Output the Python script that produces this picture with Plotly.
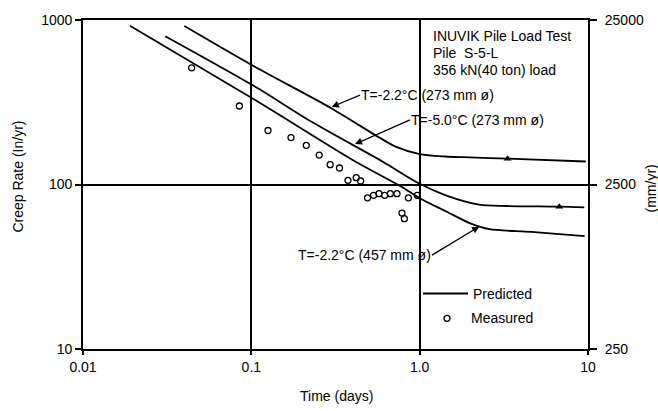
import math
import plotly.graph_objects as go

# Predicted creep-rate curves: time (days) vs creep rate (in/yr)
a_time = [0.040, 0.105, 0.30, 0.58, 0.72, 1.0, 1.42, 1.82, 3.33, 9.7]
a_rate = [920, 520, 290, 192, 170, 153, 148, 146.5, 143.6, 138]

b_time = [0.0308, 0.105, 0.232, 0.601, 1.0, 1.43, 2.25, 3.26, 6.75, 9.5]
b_rate = [797, 394, 238, 138, 101, 86, 75.5, 74, 73.3, 72.6]

c_time = [0.019, 0.106, 0.40, 0.771, 1.0, 1.44, 2.0, 2.6, 4.6, 9.55]
c_rate = [923, 325, 141, 97.5, 82.5, 68.5, 58, 53.5, 51.5, 48.5]

# Filled triangles on the -2.2 C / -5.0 C (273 mm) curves
tri_time = [3.33, 6.75]
tri_rate = [143.6, 73.3]

# Measured creep rates
meas_time = [0.0442, 0.0849, 0.1256, 0.172, 0.212, 0.253, 0.294, 0.334,
             0.375, 0.420, 0.446, 0.490, 0.532, 0.573, 0.619, 0.669,
             0.733, 0.857, 0.968, 0.785, 0.811]
meas_rate = [512, 300, 213, 193, 173, 151, 132, 126,
             106, 110, 105, 83, 86, 88, 86, 88,
             88, 83, 86, 67, 62]

x_ticks = [0.01, 0.1, 1, 10]
x_tick_text = ["0.01", "0.1", "1.0", "10"]
y_ticks = [10, 100, 1000]
y_tick_text = ["10", "100", "1000"]
y2_ticks = [250, 2500, 25000]
y2_tick_text = ["250", "2500", "25000"]

# Figure geometry
W, H = 658, 411
L, R, T, B = 83, 70, 17, 62
PW, PH = W - L - R, H - T - B
X_RANGE = [-2, 1]
Y_RANGE = [1, 3]
FONT = "Liberation Sans, Arial, Helvetica, sans-serif"
INK = "black"


def paper_x(px):
    return (px - L) / PW


def paper_y(py):
    return (H - B - py) / PH


def data_px(x, y):
    px = L + (math.log10(x) - X_RANGE[0]) / (X_RANGE[1] - X_RANGE[0]) * PW
    py = T + (Y_RANGE[1] - math.log10(y)) / (Y_RANGE[1] - Y_RANGE[0]) * PH
    return px, py


fig = go.Figure()

line_style = dict(color=INK, width=1.8, shape="spline", smoothing=0.8)
for tx, ry in [(a_time, a_rate), (b_time, b_rate), (c_time, c_rate)]:
    fig.add_trace(go.Scatter(x=tx, y=ry, mode="lines", line=line_style,
                             showlegend=False, hoverinfo="skip"))

fig.add_trace(go.Scatter(x=meas_time, y=meas_rate, mode="markers",
                         marker=dict(symbol="circle-open", size=6, color=INK,
                                     line=dict(width=1.3, color=INK)),
                         showlegend=False, hoverinfo="skip"))

fig.add_trace(go.Scatter(x=tri_time, y=tri_rate, mode="markers",
                         marker=dict(symbol="triangle-up", size=7, color=INK),
                         showlegend=False, hoverinfo="skip"))

# placeholder so the mm/yr axis is drawn
fig.add_trace(go.Scatter(x=[], y=[], yaxis="y2", showlegend=False,
                         hoverinfo="skip"))

annotations = []


def text_at(text, px, py, xanchor="left", angle=0):
    annotations.append(dict(text=text, xref="paper", yref="paper",
                            x=paper_x(px), y=paper_y(py), xanchor=xanchor,
                            yanchor="middle", showarrow=False,
                            textangle=angle,
                            font=dict(family=FONT, size=14, color=INK)))


def arrow_label(text, tip_x, tip_y, tail_px, tail_py, xanchor):
    hx, hy = data_px(tip_x, tip_y)
    annotations.append(dict(text=text, xref="x", yref="y",
                            x=math.log10(tip_x), y=math.log10(tip_y),
                            ax=tail_px - hx, ay=tail_py - hy,
                            xanchor=xanchor, yanchor="middle",
                            showarrow=True, arrowhead=2, arrowsize=1.1,
                            arrowwidth=1.3, arrowcolor=INK, standoff=0,
                            borderpad=0,
                            font=dict(family=FONT, size=14, color=INK)))


text_at("INUVIK Pile Load Test", 431, 33)
text_at("Pile  S-5-L", 431, 50)
text_at("356 kN(40 ton) load", 431, 67)

arrow_label("T=-2.2°C (273 mm ø)", 0.300, 296, 360, 93, "left")
arrow_label("T=-5.0°C (273 mm ø)", 0.413, 176, 410, 118, "left")
arrow_label("T=-2.2°C (457 mm ø)", 2.26, 55.5, 432, 254, "right")

text_at("Predicted", 471, 293)
text_at("Measured", 469, 318)

text_at("Time (days)", 336, 396, xanchor="center")
text_at("Creep Rate (In/yr)", 18, 175, xanchor="center", angle=-90)
text_at("(mm/yr)", 651, 187, xanchor="center", angle=-90)

shapes = [
    dict(type="line", xref="paper", yref="paper",
         x0=paper_x(423), x1=paper_x(468), y0=paper_y(293), y1=paper_y(293),
         line=dict(color=INK, width=1.8)),
    dict(type="circle", xref="paper", yref="paper",
         xsizemode="pixel", ysizemode="pixel",
         xanchor=paper_x(447), yanchor=paper_y(318),
         x0=-3, x1=3, y0=-3, y1=3,
         line=dict(color=INK, width=1.3)),
]

axis_common = dict(showline=True, linecolor=INK, linewidth=1.8, mirror=True,
                   showgrid=True, gridcolor=INK, gridwidth=1.8,
                   zeroline=False, ticks="outside", tickcolor=INK,
                   tickwidth=1.5,
                   tickfont=dict(family=FONT, size=14, color=INK))

fig.update_layout(
    width=W, height=H,
    margin=dict(l=L, r=R, t=T, b=B, pad=0),
    paper_bgcolor="white", plot_bgcolor="white",
    showlegend=False,
    xaxis=dict(type="log", range=X_RANGE, tickvals=x_ticks,
               ticktext=x_tick_text, ticklen=4, **axis_common),
    yaxis=dict(type="log", range=Y_RANGE, tickvals=y_ticks,
               ticktext=y_tick_text, ticklen=6, **axis_common),
    yaxis2=dict(type="log", overlaying="y", side="right",
                range=[math.log10(250), math.log10(25000)],
                tickvals=y2_ticks, ticktext=y2_tick_text,
                showline=False, showgrid=False, zeroline=False,
                ticks="outside", ticklen=8, tickwidth=1.5, tickcolor=INK,
                ticklabelstandoff=5,
                tickfont=dict(family=FONT, size=14, color=INK)),
    annotations=annotations,
    shapes=shapes,
)

fig.write_html("out.html")
